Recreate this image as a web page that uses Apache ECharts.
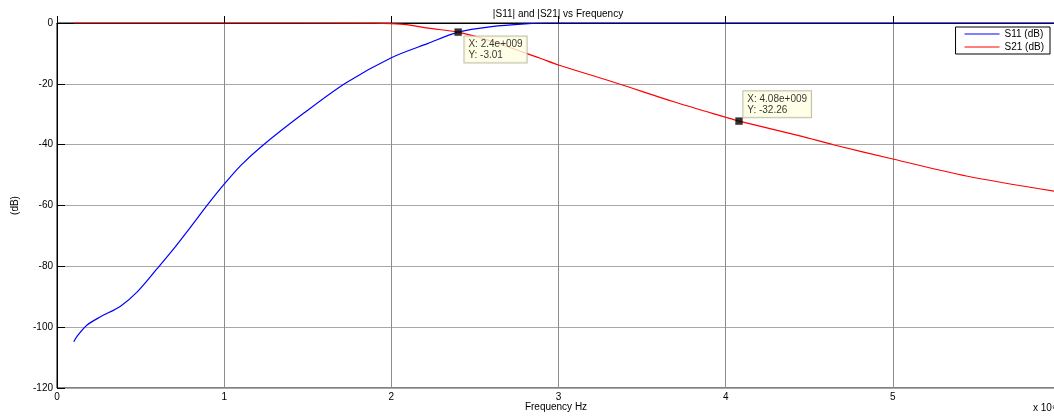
<!DOCTYPE html>
<html>
<head>
<meta charset="utf-8">
<script src="https://cdn.jsdelivr.net/npm/echarts@6/dist/echarts.min.js"></script>
<style>
  html, body { margin: 0; padding: 0; background: #fff; overflow: hidden; }
  #chart { width: 1054px; height: 417px; }
</style>
</head>
<body>
<div id="chart"></div>
<script>
// Frequency in units of 1e9 Hz
const freqS11 = [0.1, 0.12, 0.18, 0.26, 0.38, 0.48, 0.6, 0.7, 0.8, 0.9, 1.0, 1.1, 1.225, 1.475, 1.725, 2.0, 2.22, 2.4, 2.6, 2.8, 2.95, 6.0];
const s11dB   = [-104.8, -103, -99.3, -96.6, -93.1, -88.4, -80.7, -74.1, -67.0, -59.8, -53.0, -46.8, -40.5, -29.7, -19.8, -11.4, -6.7, -3.01, -1.2, -0.3, 0, 0];

const freqS21 = [0.1, 1.0, 1.9, 2.0, 2.09, 2.22, 2.4, 2.6, 2.89, 3.0, 3.35, 3.69, 4.0, 4.08, 4.45, 4.65, 5.0, 5.44, 6.0];
const s21dB   = [0, 0, -0.05, -0.2, -0.55, -1.7, -3.01, -6.0, -11.6, -13.8, -19.8, -25.9, -31.0, -32.26, -37.2, -40.1, -44.7, -50.3, -55.6];

// Data cursor points
const tipX = [2.4, 4.08];
const tipY = [-3.01, -32.26];
const tipOffset = [[10, 8], [8, -26]];

const xTicks = [0, 1, 2, 3, 4, 5, 6];
const yTicks = [0, -20, -40, -60, -80, -100, -120];

const FONT = "'Liberation Sans', Arial, Helvetica, sans-serif";

function pairs(xs, ys) { return xs.map((x, i) => [x, ys[i]]); }
function matlabExp(v) { return (+v.toFixed(2)) + 'e+009'; }

const chart = echarts.init(document.getElementById('chart'));
chart.setOption({
  animation: false,
  backgroundColor: '#fff',
  textStyle: { fontFamily: FONT },
  grid: {
    left: 57, top: 23, width: 1003, bottom: 29,
    containLabel: false, outerBoundsMode: 'none',
    show: true, backgroundColor: '#fff', borderColor: '#000', borderWidth: 1
  },
  legend: {
    data: ['S11 (dB)', 'S21 (dB)'],
    orient: 'vertical',
    right: 4, top: 27,
    backgroundColor: '#fff',
    borderColor: '#000', borderWidth: 1, borderRadius: 0,
    padding: [2, 6, 2, 9],
    itemGap: 3,
    itemWidth: 35, itemHeight: 1,
    icon: 'rect',
    textStyle: { fontSize: 10, color: '#000', fontFamily: FONT }
  },
  xAxis: {
    type: 'value',
    min: xTicks[0], max: xTicks[xTicks.length - 1], interval: 1,
    axisLine: { lineStyle: { color: '#000', width: 1 } },
    axisTick: { inside: true, length: 7, lineStyle: { color: '#000' } },
    axisLabel: { fontSize: 10, color: '#000', margin: 4, fontFamily: FONT },
    splitLine: { show: true, lineStyle: { color: '#8c8c8c', width: 1 } }
  },
  yAxis: {
    type: 'value',
    min: yTicks[yTicks.length - 1], max: yTicks[0], interval: 20,
    name: '(dB)',
    nameLocation: 'middle', nameGap: 37, nameRotate: 90,
    nameTextStyle: { fontSize: 10, color: '#000', fontFamily: FONT },
    axisLine: { show: true, lineStyle: { color: '#000', width: 1 } },
    axisTick: { show: true, inside: true, length: 8, lineStyle: { color: '#000' } },
    axisLabel: { fontSize: 10, color: '#000', margin: 4, fontFamily: FONT },
    splitLine: { show: true, lineStyle: { color: '#a8a8a8', width: 1 } }
  },
  graphic: [
    {
      type: 'text', x: 558, y: 14, z: 10,
      style: { text: '|S11| and |S21| vs Frequency', font: '10px ' + FONT, fill: '#000',
               textAlign: 'center', textVerticalAlign: 'middle' }
    },
    {
      type: 'text', x: 556, y: 407, z: 10,
      style: { text: 'Frequency Hz', font: '10px ' + FONT, fill: '#000',
               textAlign: 'center', textVerticalAlign: 'middle' }
    },
    {
      type: 'text', x: 1033, y: 408, z: 10,
      style: { text: 'x 10⁹', font: '10px ' + FONT, fill: '#000',
               textAlign: 'left', textVerticalAlign: 'middle' }
    }
  ],
  series: [
    {
      name: 'S11 (dB)', type: 'line',
      data: pairs(freqS11, s11dB),
      symbol: 'none', smooth: 0.3,
      lineStyle: { color: '#0000ff', width: 1.2 },
      itemStyle: { color: '#0000ff' },
      z: 3
    },
    {
      name: 'S21 (dB)', type: 'line',
      data: pairs(freqS21, s21dB),
      symbol: 'none', smooth: 0.3,
      lineStyle: { color: '#ff0000', width: 1.2 },
      itemStyle: { color: '#ff0000' },
      z: 4
    },
    {
      name: 'cursor', type: 'scatter',
      symbol: 'rect', symbolSize: 7,
      itemStyle: { color: '#000', borderColor: '#333', borderWidth: 0.5 },
      z: 6,
      data: tipX.map((x, i) => ({
        value: [x, tipY[i]],
        label: {
          show: true,
          position: tipOffset[i],
          formatter: 'X: ' + matlabExp(x) + '\nY: ' + tipY[i].toFixed(2),
          fontSize: 10, lineHeight: 11, color: '#000', fontFamily: FONT,
          backgroundColor: '#ffffe1', borderColor: '#b0b0a0', borderWidth: 1,
          padding: [2, 4, 2, 4], align: 'left', verticalAlign: 'top'
        }
      }))
    }
  ]
});
</script>
</body>
</html>
